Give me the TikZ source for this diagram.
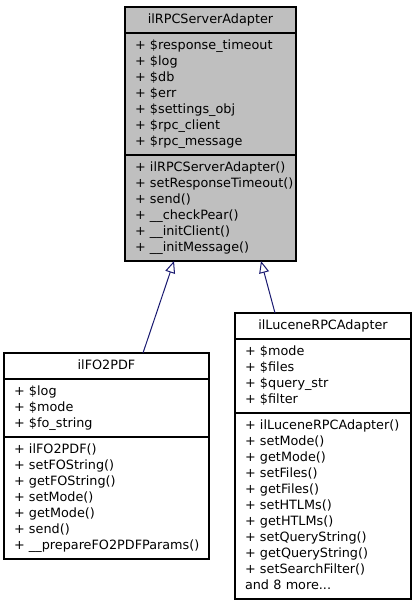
\documentclass[tikz,border=0pt]{standalone}
\usepackage{fontspec}
\newfontfamily\umlfont{DejaVu Sans}
\usetikzlibrary{arrows.meta,positioning}

\definecolor{umlgray}{RGB}{191,191,191}
\definecolor{edgeblue}{RGB}{25,25,112}

\tikzset{
	umlbox/.style={draw=black, line width=1.1pt, outer sep=0pt, inner ysep=5pt,
		font=\umlfont\fontsize{12.8}{16}\selectfont,
		execute at begin node={\parindent=0pt\hyphenpenalty=10000\hbadness=10000\hfuzz=20pt\strut}, execute at end node=\strut},
	umltitle/.style={umlbox, anchor=north west, align=center, minimum width=#1},
	umlpart/.style={umlbox, align=left, inner xsep=10pt, text width=#1},
	inherit/.style={edgeblue, line width=1pt, -{Triangle[open,length=12pt,width=10pt]}}
}

\begin{document}
\begin{tikzpicture}[x=1pt,y=-1pt]
		\useasboundingbox (0,0) rectangle (416,608);
		% base class
		\node[umltitle=171pt, fill=umlgray] (rpc) at (125,7) {ilRPCServerAdapter};
		\node[umlpart=151pt, fill=umlgray, below=0pt of rpc] (rpc_attr)
			{+~\$response\_timeout\\+~\$log\\+~\$db\\+~\$err\\+~\$settings\_obj\\+~\$rpc\_client\\+~\$rpc\_message};
		\node[umlpart=151pt, fill=umlgray, below=0pt of rpc_attr] (rpc_ops)
			{+~ilRPCServerAdapter()\\+~setResponseTimeout()\\+~send()\\+~\_\_checkPear()\\+~\_\_initClient()\\+~\_\_initMessage()};
		% derived classes
		\node[umltitle=205pt, fill=white] (fo) at (4,353) {ilFO2PDF};
		\node[umlpart=185pt, fill=white, below=0pt of fo] (fo_attr)
			{+~\$log\\+~\$mode\\+~\$fo\_string};
		\node[umlpart=185pt, fill=white, below=0pt of fo_attr] (fo_ops)
			{+~ilFO2PDF()\\+~setFOString()\\+~getFOString()\\+~setMode()\\+~getMode()\\+~send()\\+~\_\_prepareFO2PDFParams()};
		\node[umltitle=176pt, fill=white] (lucene) at (235,313) {ilLuceneRPCAdapter};
		\node[umlpart=156pt, fill=white, below=0pt of lucene] (lucene_attr)
			{+~\$mode\\+~\$files\\+~\$query\_str\\+~\$filter};
		\node[umlpart=156pt, fill=white, below=0pt of lucene_attr] (lucene_ops)
			{+~ilLuceneRPCAdapter()\\+~setMode()\\+~getMode()\\+~setFiles()\\+~getFiles()\\+~setHTLMs()\\+~getHTLMs()\\+~setQueryString()\\+~getQueryString()\\+~setSearchFilter()\\and 8 more...};
		% generalisation
		\draw[inherit] ([xshift=139pt]fo.north west) -- ([xshift=49pt]rpc_ops.south west);
		\draw[inherit] ([xshift=40pt]lucene.north west) -- ([xshift=136pt]rpc_ops.south west);
	\end{tikzpicture}
\end{document}
